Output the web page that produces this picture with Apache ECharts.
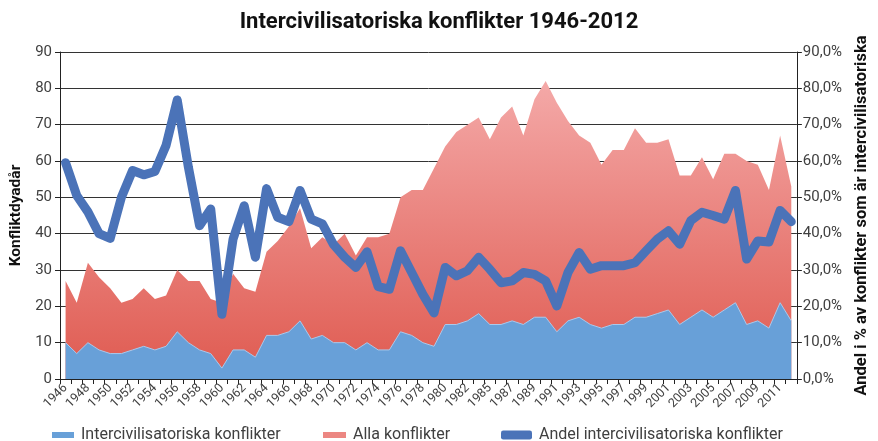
<!DOCTYPE html>
<html>
<head>
<meta charset="utf-8">
<script src="https://cdn.jsdelivr.net/npm/echarts@6/dist/echarts.min.js"></script>
<style>html,body{margin:0;padding:0;background:#fff}#c{width:878px;height:441px}</style>
</head>
<body>
<div id="c"></div>
<script>
const years = [1946,1947,1948,1949,1950,1951,1952,1953,1954,1955,1956,1957,1958,1959,1960,1961,1962,1963,1964,1965,1966,1967,1968,1969,1970,1971,1972,1973,1974,1975,1976,1977,1978,1979,1980,1981,1982,1983,1985,1986,1987,1988,1989,1990,1991,1992,1993,1994,1995,1996,1997,1998,1999,2000,2001,2002,2003,2004,2005,2006,2007,2008,2009,2010,2011,2012];
const interValues = [10,7,10,8,7,7,8,9,8,9,13,10,8,7,3,8,8,6,12,12,13,16,11,12,10,10,8,10,8,8,13,12,10,9,15,15,16,18,15,15,16,15,17,17,13,16,17,15,14,15,15,17,17,18,19,15,17,19,17,19,21,15,16,14,21,16];
const allValues = [27,21,32,28,25,21,22,25,22,23,30,27,27,22,21,29,25,24,35,38,42,47,36,39,37,40,34,39,39,40,50,52,52,58,64,68,70,72,66,72,75,67,77,82,76,71,67,65,59,63,63,69,65,65,66,56,56,61,55,62,62,60,59,52,67,53];
const shareValues = [59.5,50.5,46,40,38.7,50,57.4,56.2,57.1,64.3,76.8,58.3,42.2,46.8,17.8,38.5,47.7,33.5,52.4,44.5,43.3,51.9,44,42.7,37,33.5,30.7,35,25.4,24.7,35.3,29.3,23.3,18.2,30.7,28.4,29.8,33.5,30.2,26.5,27,29.3,28.8,27,20.1,29.3,34.8,30.2,31.2,31.2,31.2,32,35.3,38.5,40.8,37.1,43.6,45.9,45,44,51.9,33,38,37.7,46.4,43.3];
const names = ['Intercivilisatoriska konflikter','Alla konflikter','Andel intercivilisatoriska konflikter'];

const FONT = 'Roboto';
const chart = echarts.init(document.getElementById('c'));
const legendText = {fontFamily: FONT, fontSize: 16, color: '#404040', padding: [0, 0, 0, 2]};
chart.setOption({
  animation: false,
  textStyle: {fontFamily: FONT},
  title: {
    text: 'Intercivilisatoriska konflikter 1946-2012',
    left: 'center', top: 11, padding: 0,
    textStyle: {fontFamily: FONT, fontSize: 22, fontWeight: 'bold', color: '#111'}
  },
  legend: [
    {data: [names[0]], left: 52, top: 427, padding: 0, itemWidth: 22, itemHeight: 6, icon: 'rect', textStyle: legendText},
    {data: [names[1]], left: 323, top: 427, padding: 0, itemWidth: 23, itemHeight: 6, icon: 'rect', textStyle: legendText},
    {data: [names[2]], left: 501, top: 427, padding: 0, itemWidth: 31, itemHeight: 9, icon: 'roundRect', textStyle: legendText}
  ],
  grid: {left: 53, right: 66, top: 52, bottom: 62, containLabel: false},
  xAxis: {
    type: 'category', data: years, boundaryGap: true,
    axisLine: {lineStyle: {color: '#222', width: 1}},
    axisTick: {show: true, interval: 0, length: 5, lineStyle: {color: '#222'}},
    axisLabel: {interval: 1, rotate: 45, fontSize: 12.5, color: '#404040', margin: 7, fontFamily: FONT}
  },
  yAxis: [
    {
      type: 'value', min: 0, max: 90, interval: 10,
      name: 'Konfliktdyadår', nameLocation: 'middle', nameGap: 36, nameRotate: 90,
      nameTextStyle: {fontFamily: FONT, fontSize: 15.5, fontWeight: 'bold', color: '#111'},
      axisLine: {show: true, lineStyle: {color: '#222'}},
      axisTick: {show: true, length: 5, lineStyle: {color: '#222'}},
      axisLabel: {fontSize: 15, color: '#404040', margin: 8, fontFamily: FONT},
      splitLine: {show: true, lineStyle: {color: '#333', width: 1}}
    },
    {
      type: 'value', min: 0, max: 90, interval: 10, position: 'right',
      name: 'Andel i % av konflikter som är intercivilisatoriska', nameLocation: 'middle', nameGap: 52, nameRotate: 90,
      nameTextStyle: {fontFamily: FONT, fontSize: 16.5, fontWeight: 'bold', color: '#111'},
      axisLine: {show: true, lineStyle: {color: '#222'}},
      axisTick: {show: true, length: 5, lineStyle: {color: '#222'}},
      axisLabel: {fontSize: 15, color: '#404040', margin: 6, fontFamily: FONT,
        formatter: v => v.toFixed(1).replace('.', ',') + '%'},
      splitLine: {show: false}
    }
  ],
  series: [
    {
      name: names[1], type: 'line', data: allValues, symbol: 'none', z: 2,
      itemStyle: {color: '#ec8782'},
      lineStyle: {width: 0, opacity: 0},
      areaStyle: {opacity: 1, color: new echarts.graphic.LinearGradient(0, 0, 0, 1, [
        {offset: 0, color: '#f4a9a8'},
        {offset: 1, color: '#df5a50'}
      ])}
    },
    {
      name: names[0], type: 'line', data: interValues, symbol: 'none', z: 3,
      itemStyle: {color: '#68a0d8'},
      lineStyle: {width: 1, color: '#a9c9ec'},
      areaStyle: {opacity: 1, color: '#68a0d8'}
    },
    {
      name: names[2], type: 'line', yAxisIndex: 1, data: shareValues, symbol: 'none', z: 4,
      itemStyle: {color: '#4b73b8'},
      lineStyle: {width: 9, color: '#4b73b8', cap: 'round', join: 'round'}
    }
  ]
});
</script>
</body>
</html>
